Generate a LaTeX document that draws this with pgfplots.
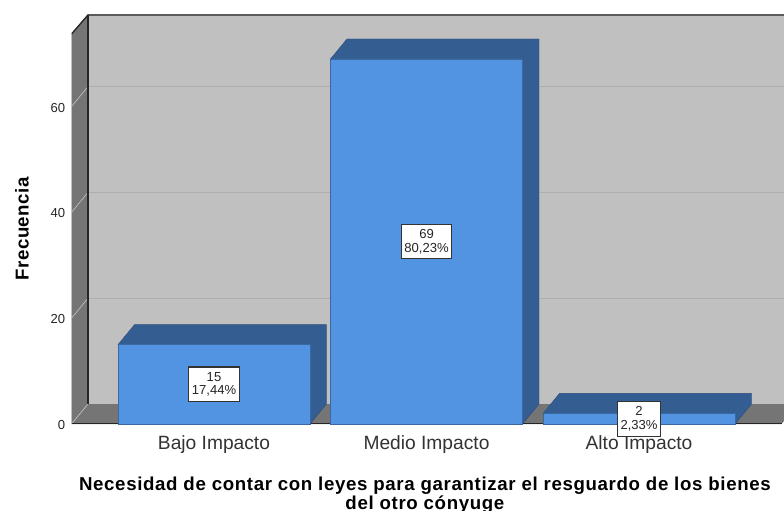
\documentclass[border=0pt]{standalone}
\usepackage{fontspec}
\setmainfont{Liberation Sans}
\newfontfamily\titlefont[LetterSpace=3.5]{Liberation Sans}
\newfontfamily\yfont[LetterSpace=2.5]{Liberation Sans}
\usepackage{pgfplots}
\pgfplotsset{compat=1.18}
\definecolor{wallc}{HTML}{757575}
\definecolor{backc}{HTML}{C0C0C0}
\definecolor{gridc}{HTML}{AEAEAE}
\definecolor{barf}{HTML}{5294E2}
\definecolor{bard}{HTML}{345D91}
\begin{document}
\begin{tikzpicture}
\useasboundingbox (0,0) rectangle (588pt,382.5pt);
\clip (0,0) rectangle (588pt,382.5pt);
\begin{axis}[
  at={(53.625pt,64.5pt)},anchor=south west,
  scale only axis,width=534.4pt,height=307.5pt,
  xmin=-0.6706,xmax=2.6824,ymin=0,ymax=77.5,
  axis line style={draw=none},
  major tick length=0pt,
  xtick={0,1,2},
  xticklabels={Bajo Impacto,Medio Impacto,Alto Impacto},
  ytick={0,20,40,60},
  /pgf/number format/assume math mode=true,
  xticklabel style={font=\fontsize{14.4}{16}\selectfont,color=black!80,yshift=-5.5pt},
  yticklabel style={font=\fontsize{9.8}{11}\selectfont,color=black!85,xshift=-1.2pt,yshift=-0.8pt},
  xlabel={Necesidad de contar con leyes para garantizar el resguardo de los bienes\\del otro cónyuge},
  xlabel style={at={(axis description cs:0.496,-0.117)},anchor=north,align=center,
    font=\fontsize{14}{14.8}\titlefont\bfseries},
  ylabel={Frecuencia},
  ylabel style={at={(axis description cs:-0.0695,0.476)},anchor=center,rotate=0,
    font=\fontsize{14}{15}\yfont\bfseries},
]
% back wall
\addplot[fill=backc,draw=none] coordinates {(-0.593,3.78)(2.75,3.78)(2.75,77.5)(-0.593,77.5)} --cycle;
% left wall
\addplot[fill=wallc,draw=none] coordinates {(-0.6706,0)(-0.593,3.78)(-0.593,77.5)(-0.6706,73.72)} --cycle;
% floor
\addplot[fill=wallc,draw=none] coordinates {(-0.6706,0)(-0.593,3.78)(2.75,3.78)(2.6706,0)} --cycle;
% grid
\addplot[gridc,line width=0.7pt] coordinates {(-0.593,23.78)(2.75,23.78)};
\addplot[gridc,line width=0.7pt] coordinates {(-0.593,43.78)(2.75,43.78)};
\addplot[gridc,line width=0.7pt] coordinates {(-0.593,63.78)(2.75,63.78)};
\addplot[black!25,line width=0.5pt] coordinates {(-0.6706,0)(-0.593,3.78)};
\addplot[black!25,line width=0.5pt] coordinates {(-0.6706,20)(-0.593,23.78)};
\addplot[black!25,line width=0.5pt] coordinates {(-0.6706,40)(-0.593,43.78)};
\addplot[black!25,line width=0.5pt] coordinates {(-0.6706,60)(-0.593,63.78)};
% frame
\addplot[black!85,line width=1pt] coordinates {(-0.6706,73.72)(-0.593,77.3)(2.75,77.3)};
\addplot[black!85,line width=1pt] coordinates {(-0.593,77.3)(-0.593,3.78)};
\addplot[black!85,line width=1pt] coordinates {(-0.6706,0.1)(2.6706,0.1)};
\addplot[black!35,line width=0.6pt] coordinates {(-0.6706,0)(-0.6706,73.72)};
% bar tops and sides
\addplot[fill=bard,draw=bard!85!black,line width=0.3pt] coordinates {(-0.4518,15)(-0.3742,18.78)(0.5294,18.78)(0.5294,3.78)(0.4518,0)(0.4518,15)} --cycle;
\addplot[fill=bard,draw=bard!85!black,line width=0.3pt] coordinates {(0.5482,69)(0.6258,72.78)(1.5294,72.78)(1.5294,3.78)(1.4518,0)(1.4518,69)} --cycle;
\addplot[fill=bard,draw=bard!85!black,line width=0.3pt] coordinates {(1.5482,2)(1.6258,5.78)(2.5294,5.78)(2.5294,3.78)(2.4518,0)(2.4518,2)} --cycle;
% bar fronts
\addplot[ybar,bar width=144pt,fill=barf,draw=bard!80!barf,line width=0.4pt] coordinates {(0,15)(1,69)(2,2)};
\end{axis}
\begin{axis}[
  at={(53.625pt,64.5pt)},anchor=south west,
  scale only axis,width=534.4pt,height=307.5pt,
  xmin=-0.6706,xmax=2.6824,ymin=0,ymax=77.5,
  hide axis,clip=false,
]
\tikzset{vl/.style={draw=black!80,fill=white,line width=0.8pt,align=center,inner sep=0pt,
  minimum height=26pt,font=\fontsize{9.8}{10.4}\selectfont,text=black!85}}
\node[vl,minimum width=38pt] at (axis cs:0,7.5) {15\\17,44\%};
\node[vl,minimum width=38pt] at (axis cs:1,34.5) {69\\80,23\%};
\node[vl,minimum width=32pt] at (axis cs:2,1) {2\\2,33\%};
\end{axis}
\end{tikzpicture}
\end{document}
